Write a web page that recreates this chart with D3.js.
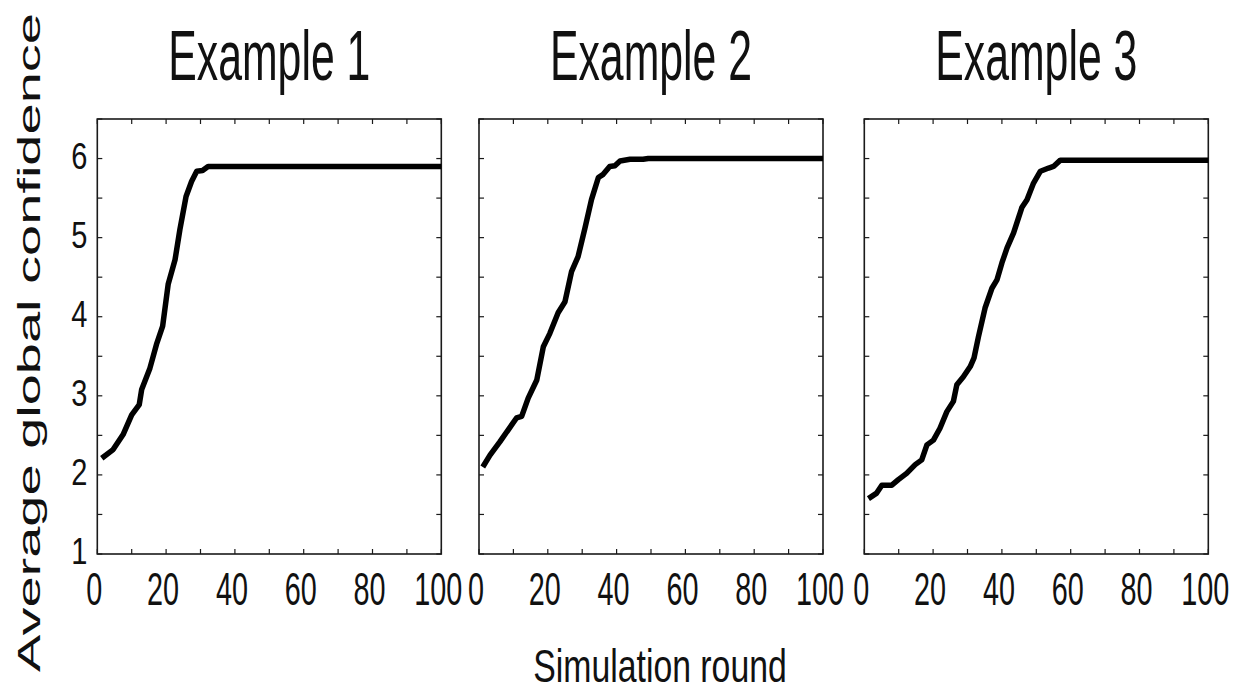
<!DOCTYPE html>
<html><head><meta charset="utf-8">
<script src="https://cdn.jsdelivr.net/npm/d3@7"></script>
<style>body{margin:0;background:#fff}svg{display:block}</style>
</head><body>
<svg id="c" width="1237" height="693"></svg>
<script>
// ---- data ----
const titles = ["Example 1", "Example 2", "Example 3"];
const ex1X = [1.3, 4.6, 7.5, 10, 12.2, 12.9, 15.3, 17.2, 19, 20.6, 22.6, 24, 25.8, 27.4, 28.9, 30.6, 32.2, 100];
const ex1Y = [2.21, 2.32, 2.51, 2.76, 2.89, 3.08, 3.35, 3.65, 3.88, 4.41, 4.72, 5.10, 5.52, 5.71, 5.84, 5.85, 5.90, 5.90];
const ex2X = [1.1, 3.2, 6.1, 8.5, 10.9, 12.4, 14.3, 16.8, 18.7, 20.6, 23, 25, 26.9, 28.8, 30.8, 32.7, 34.7, 36.1, 38, 39.5, 41, 43.9, 47.7, 49.2, 100];
const ex2Y = [2.10, 2.25, 2.42, 2.57, 2.72, 2.74, 2.97, 3.20, 3.62, 3.79, 4.05, 4.19, 4.57, 4.76, 5.12, 5.48, 5.76, 5.80, 5.90, 5.91, 5.97, 5.99, 5.99, 6.0, 6.0];
const ex3X = [1.2, 3.6, 5.1, 8, 9.9, 12.3, 14.8, 16.7, 18.2, 20.1, 22, 24, 25.9, 26.9, 28.8, 30.8, 31.9, 33.2, 35.1, 37.1, 38.6, 40, 41.5, 43.4, 45.8, 47.3, 49.2, 51.2, 53.6, 55, 57, 100];
const ex3Y = [1.70, 1.77, 1.87, 1.87, 1.94, 2.02, 2.13, 2.19, 2.38, 2.44, 2.59, 2.80, 2.93, 3.14, 3.24, 3.37, 3.48, 3.75, 4.11, 4.36, 4.47, 4.68, 4.87, 5.06, 5.38, 5.48, 5.69, 5.84, 5.88, 5.90, 5.98, 5.98];
const xTickLabels = [0, 20, 40, 60, 80, 100];
const yTickLabels = [1, 2, 3, 4, 5, 6];
const xLabel = "Simulation round";
const yLabel = "Average global confidence";

const series = [[ex1X, ex1Y], [ex2X, ex2Y], [ex3X, ex3Y]];

// ---- layout ----
const svg = d3.select("#c");
const font = "'Liberation Sans', Arial, Helvetica, sans-serif";
const panelLeft = [97.3, 479, 864.3];
const panelW = 344;
const plotTop = 119, plotBottom = 554;
const frameColor = "#1a1a1a";

const y = d3.scaleLinear().domain([1, 6.5]).range([plotBottom, plotTop]);

series.forEach((s, i) => {
  const x = d3.scaleLinear().domain([0, 100]).range([panelLeft[i], panelLeft[i] + panelW]);
  const g = svg.append("g");

  // ticks (inward, all four sides)
  const xt = d3.range(0, 101, 10);
  const yt = d3.range(1, 6.51, 0.5);
  const tl = 5;
  g.selectAll(".xtb").data(xt).join("line")
    .attr("x1", d => x(d)).attr("x2", d => x(d))
    .attr("y1", plotBottom).attr("y2", plotBottom - tl)
    .attr("stroke", frameColor).attr("stroke-width", 1.2);
  g.selectAll(".xtt").data(xt).join("line")
    .attr("x1", d => x(d)).attr("x2", d => x(d))
    .attr("y1", plotTop).attr("y2", plotTop + tl)
    .attr("stroke", frameColor).attr("stroke-width", 1.2);
  g.selectAll(".ytl").data(yt).join("line")
    .attr("x1", x(0)).attr("x2", x(0) + tl)
    .attr("y1", d => y(d)).attr("y2", d => y(d))
    .attr("stroke", frameColor).attr("stroke-width", 1.2);
  g.selectAll(".ytr").data(yt).join("line")
    .attr("x1", x(100)).attr("x2", x(100) - tl)
    .attr("y1", d => y(d)).attr("y2", d => y(d))
    .attr("stroke", frameColor).attr("stroke-width", 1.2);

  // frame
  g.append("rect")
    .attr("x", x(0)).attr("y", plotTop)
    .attr("width", x(100) - x(0)).attr("height", plotBottom - plotTop)
    .attr("fill", "none").attr("stroke", frameColor).attr("stroke-width", 1.6);

  // line
  const pts = s[0].map((v, k) => [v, s[1][k]]);
  g.append("path")
    .datum(pts)
    .attr("d", d3.line().x(d => x(d[0])).y(d => y(d[1])))
    .attr("fill", "none").attr("stroke", "#000")
    .attr("stroke-width", 5.5).attr("stroke-linejoin", "round").attr("stroke-linecap", "butt");

  // x tick labels
  g.selectAll(".xl").data(xTickLabels).join("text")
    .attr("transform", d => `translate(${x(d) - 3},605) scale(1,1.6)`)
    .attr("text-anchor", "middle")
    .attr("font-family", font).attr("font-size", 28.8).attr("fill", "#111")
    .text(d => d);

  // title
  g.append("text")
    .attr("transform", `translate(${x(50)},80) scale(1,1.66)`)
    .attr("text-anchor", "middle")
    .attr("font-family", font).attr("font-size", 42.8).attr("fill", "#111")
    .text(titles[i]);

  // y tick labels (first panel only)
  if (i === 0) {
    g.selectAll(".yl").data(yTickLabels).join("text")
      .attr("transform", d => `translate(${x(0) - 10},${y(d) + 10}) scale(1,1.25)`)
      .attr("text-anchor", "end")
      .attr("font-family", font).attr("font-size", 29).attr("fill", "#111")
      .text(d => d);
  }
});

// axis labels
svg.append("text")
  .attr("transform", "translate(660,681.7) scale(1,1.37)")
  .attr("text-anchor", "middle")
  .attr("font-family", font).attr("font-size", 33.8).attr("fill", "#111")
  .text(xLabel);

svg.append("text")
  .attr("transform", "translate(40,342.5) rotate(-90) scale(1.75,1)")
  .attr("text-anchor", "middle")
  .attr("font-family", font).attr("font-size", 32).attr("fill", "#111")
  .text(yLabel);
</script>
</body></html>
